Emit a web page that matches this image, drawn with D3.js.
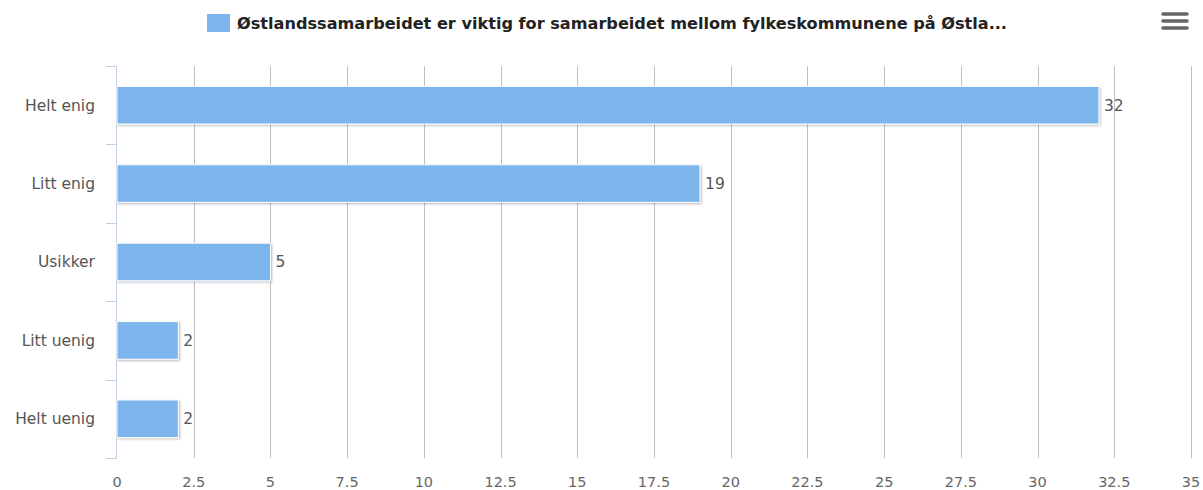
<!DOCTYPE html>
<html>
<head>
<meta charset="utf-8">
<script src="https://d3js.org/d3.v7.min.js"></script>
<style>
  body { margin: 0; background: #fff; }
  svg { display: block; font-family: "Lucida Grande", "DejaVu Sans", Arial, sans-serif; }
</style>
</head>
<body>
<div id="chart"></div>
<script>
// chart data
const categories = ["Helt enig", "Litt enig", "Usikker", "Litt uenig", "Helt uenig"];
const values = [32, 19, 5, 2, 2];
const xTicks = [0, 2.5, 5, 7.5, 10, 12.5, 15, 17.5, 20, 22.5, 25, 27.5, 30, 32.5, 35];
const seriesName = "Østlandssamarbeidet er viktig for samarbeidet mellom fylkeskommunene på Østla...";

const width = 1203, height = 490;
const margin = { top: 66, right: 12, bottom: 32, left: 117 };

const svg = d3.select("#chart").append("svg")
    .attr("width", width)
    .attr("height", height);

// shadow for bars
const defs = svg.append("defs");
const filter = defs.append("filter").attr("id", "shadow")
    .attr("x", "-5%").attr("y", "-20%").attr("width", "115%").attr("height", "150%");
filter.append("feDropShadow")
    .attr("dx", 1).attr("dy", 1).attr("stdDeviation", 1.2)
    .attr("flood-color", "#000").attr("flood-opacity", 0.3);

const x = d3.scaleLinear()
    .domain([0, 35])
    .range([margin.left, width - margin.right]);

const y = d3.scaleBand()
    .domain(categories)
    .range([margin.top, height - margin.bottom])
    .paddingInner(0.52)
    .paddingOuter(0.26);

// vertical grid lines
svg.append("g")
    .selectAll("line")
    .data(xTicks.slice(1))
    .join("line")
    .attr("x1", d => Math.round(x(d)) + 0.5)
    .attr("x2", d => Math.round(x(d)) + 0.5)
    .attr("y1", margin.top)
    .attr("y2", height - margin.bottom)
    .attr("stroke", "#c0c0c0")
    .attr("stroke-width", 1);

// x tick labels
svg.append("g")
    .selectAll("text")
    .data(xTicks)
    .join("text")
    .attr("x", d => x(d))
    .attr("y", height - 3)
    .attr("text-anchor", "middle")
    .attr("font-size", 14.5)
    .attr("fill", "#666")
    .text(d => d);

// category axis line + ticks
const bandEdges = d3.range(categories.length + 1).map(i => margin.top + i * (height - margin.top - margin.bottom) / categories.length);
const yAxis = svg.append("g");
yAxis.append("line")
    .attr("x1", margin.left - 0.5).attr("x2", margin.left - 0.5)
    .attr("y1", margin.top).attr("y2", height - margin.bottom)
    .attr("stroke", "#c0d0e0");
yAxis.selectAll("line.tick")
    .data(bandEdges)
    .join("line")
    .attr("class", "tick")
    .attr("x1", margin.left - 11).attr("x2", margin.left)
    .attr("y1", d => Math.round(d) + 0.5).attr("y2", d => Math.round(d) + 0.5)
    .attr("stroke", "#c0d0e0");

yAxis.selectAll("text")
    .data(categories)
    .join("text")
    .attr("x", margin.left - 22)
    .attr("y", d => y(d) + y.bandwidth() / 2)
    .attr("dy", "0.35em")
    .attr("text-anchor", "end")
    .attr("font-size", 15.5)
    .attr("fill", "#555")
    .text(d => d);

// bars
const data = categories.map((c, i) => ({ cat: c, value: values[i] }));
svg.append("g")
    .selectAll("rect")
    .data(data)
    .join("rect")
    .attr("x", x(0))
    .attr("y", d => y(d.cat))
    .attr("width", d => x(d.value) - x(0))
    .attr("height", y.bandwidth())
    .attr("fill", "#7cb5ec")
    .attr("stroke", "#fff")
    .attr("stroke-width", 1)
    .attr("filter", "url(#shadow)");

// data labels
svg.append("g")
    .selectAll("text")
    .data(data)
    .join("text")
    .attr("x", d => x(d.value) + 5)
    .attr("y", d => y(d.cat) + y.bandwidth() / 2)
    .attr("dy", "0.35em")
    .attr("font-size", 15.5)
    .attr("fill", "#555")
    .text(d => d.value);

// legend
const legend = svg.append("g");
legend.append("rect")
    .attr("x", 207).attr("y", 14)
    .attr("width", 23).attr("height", 18)
    .attr("fill", "#7cb5ec");
legend.append("text")
    .attr("x", 237).attr("y", 29)
    .attr("font-size", 15)
    .attr("font-weight", "bold")
    .attr("fill", "#222")
    .attr("textLength", 770)
    .attr("lengthAdjust", "spacingAndGlyphs")
    .text(seriesName);

// menu icon
svg.append("g")
    .selectAll("line")
    .data([14, 21, 28])
    .join("line")
    .attr("x1", 1163).attr("x2", 1187)
    .attr("y1", d => d).attr("y2", d => d)
    .attr("stroke", "#666")
    .attr("stroke-width", 3.5)
    .attr("stroke-linecap", "round");
</script>
</body>
</html>
